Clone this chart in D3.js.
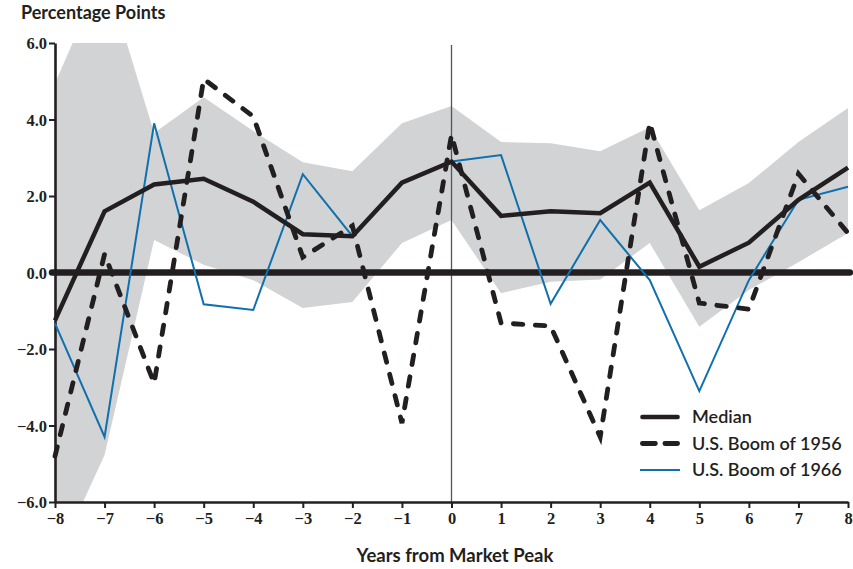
<!DOCTYPE html>
<html>
<head>
<meta charset="utf-8">
<script src="https://cdn.jsdelivr.net/npm/d3@7"></script>
<style>
  html, body { margin: 0; padding: 0; background: #fff; }
  svg { display: block; }
</style>
</head>
<body>
<svg id="chart" width="853" height="569"></svg>
<script>
// Years relative to the market peak
const years = [-8, -7, -6, -5, -4, -3, -2, -1, 0, 1, 2, 3, 4, 5, 6, 7, 8];

// Range of outcomes across episodes (shaded band)
const bandUpper = [4.95, 7.9, 3.65, 4.58, 3.7, 2.88, 2.65, 3.9, 4.35, 3.41, 3.38, 3.17, 3.8, 1.63, 2.34, 3.41, 4.3];
const bandLower = [-7.6, -4.77, 0.85, 0.2, -0.2, -0.93, -0.77, 0.77, 1.37, -0.54, -0.24, -0.18, 0.77, -1.42, -0.46, 0.27, 1.03];

// Series
const median = [-1.25, 1.6, 2.3, 2.45, 1.85, 1.0, 0.95, 2.35, 2.9, 1.48, 1.6, 1.55, 2.35, 0.15, 0.78, 1.9, 2.74];
const boom1956 = [-4.8, 0.48, -2.9, 5.06, 4.08, 0.4, 1.22, -3.94, 3.6, -1.32, -1.4, -4.3, 3.92, -0.8, -0.96, 2.58, 1.03];
const boom1966 = [-1.33, -4.3, 3.9, -0.83, -0.98, 2.57, 0.95, 2.35, 2.9, 3.07, -0.82, 1.37, -0.2, -3.1, -0.2, 1.9, 2.24];

const yTicks = [-6, -4, -2, 0, 2, 4, 6];
const xTicks = years;

const legendItems = [
  { label: "Median", key: "median" },
  { label: "U.S. Boom of 1956", key: "b1956" },
  { label: "U.S. Boom of 1966", key: "b1966" }
];

const ink = "#231f20";
const blue = "#1070ae";
const shade = "#d1d3d4";
const textFont = "Lato, 'Open Sans', sans-serif";

const styles = {
  median: { stroke: ink, width: 4.5, dash: null, cap: "butt" },
  b1956: { stroke: ink, width: 4.8, dash: "9.5,12.5", cap: "round" },
  b1966: { stroke: blue, width: 2, dash: null, cap: "butt" }
};

const svg = d3.select("#chart");
const plotLeft = 55, plotRight = 848, plotTop = 43, plotBottom = 502;

const x = d3.scaleLinear().domain([-8, 8]).range([plotLeft, plotRight]);
const y = d3.scaleLinear().domain([-6, 6]).range([plotBottom, plotTop]);

svg.append("defs").append("clipPath").attr("id", "plotClip")
  .append("rect").attr("x", plotLeft).attr("y", plotTop)
  .attr("width", plotRight - plotLeft).attr("height", plotBottom - plotTop);

// Shaded range band
const area = d3.area()
  .x((d, i) => x(years[i]))
  .y0((d, i) => y(bandLower[i]))
  .y1((d, i) => y(bandUpper[i]));

svg.append("path")
  .datum(years)
  .attr("clip-path", "url(#plotClip)")
  .attr("d", area)
  .attr("fill", shade);

// Market peak marker
svg.append("line")
  .attr("x1", x(0)).attr("x2", x(0))
  .attr("y1", 45).attr("y2", plotBottom)
  .attr("stroke", "#555")
  .attr("stroke-width", 1.3);

// Zero reference line
svg.append("line")
  .attr("x1", plotLeft - 3).attr("x2", plotRight + 2)
  .attr("y1", y(0)).attr("y2", y(0))
  .attr("stroke", ink)
  .attr("stroke-width", 6.5)
  .attr("stroke-linecap", "round");

// Axes
const yAxis = d3.axisLeft(y).tickValues(yTicks).tickFormat(d3.format(".1f")).tickSize(6).tickSizeOuter(0);
const xAxis = d3.axisBottom(x).tickValues(xTicks).tickFormat(d3.format("d")).tickSize(6).tickSizeOuter(0);

const gy = svg.append("g").attr("transform", `translate(${plotLeft},0)`).call(yAxis);
const gx = svg.append("g").attr("transform", `translate(0,${plotBottom})`).call(xAxis);

[gy, gx].forEach(g => {
  g.select(".domain").attr("stroke", ink).attr("stroke-width", 2.6);
  g.selectAll(".tick line").attr("stroke", ink).attr("stroke-width", 2);
  g.selectAll(".tick text")
    .attr("fill", ink)
    .style("font-family", "'Liberation Serif', 'DejaVu Serif', serif")
    .style("font-weight", "bold")
    .style("font-size", "16.5px");
});
gy.selectAll(".tick text").attr("x", -8).attr("dy", "0.36em");
gx.selectAll(".tick text").attr("y", 10);

// Series lines
const line = d3.line().x((d, i) => x(years[i])).y(d => y(d));
const series = [
  { key: "b1966", values: boom1966 },
  { key: "median", values: median },
  { key: "b1956", values: boom1956 }
];

series.forEach(s => {
  const st = styles[s.key];
  svg.append("path")
    .datum(s.values)
    .attr("d", line)
    .attr("fill", "none")
    .attr("stroke", st.stroke)
    .attr("stroke-width", st.width)
    .attr("stroke-linejoin", "miter")
    .attr("stroke-linecap", st.cap)
    .attr("stroke-dasharray", st.dash);
});

// Legend
const legend = svg.append("g").attr("transform", "translate(640,417)");
legendItems.forEach((item, i) => {
  const st = styles[item.key];
  const g = legend.append("g").attr("transform", `translate(0,${i * 26.5})`);
  const inset = item.key === "b1966" ? 0 : 2.4;
  g.append("line")
    .attr("x1", inset).attr("x2", 40 - inset).attr("y1", 0).attr("y2", 0)
    .attr("stroke", st.stroke)
    .attr("stroke-width", st.width)
    .attr("stroke-linecap", item.key === "b1966" ? "butt" : "round")
    .attr("stroke-dasharray", item.key === "b1956" ? "13,9.5" : null);
  g.append("text")
    .attr("x", 52).attr("y", 0).attr("dy", "0.36em")
    .attr("fill", ink)
    .style("font-family", textFont)
    .style("font-weight", "600")
    .style("font-size", "18px")
    .text(item.label);
});

// Titles
svg.append("text")
  .attr("x", 21).attr("y", 19)
  .attr("fill", ink)
  .style("font-family", textFont)
  .style("font-weight", "bold")
  .style("font-size", "18px")
  .text("Percentage Points");

svg.append("text")
  .attr("x", 455).attr("y", 562)
  .attr("text-anchor", "middle")
  .attr("fill", ink)
  .style("font-family", textFont)
  .style("font-weight", "bold")
  .style("font-size", "18.5px")
  .text("Years from Market Peak");
</script>
</body>
</html>
